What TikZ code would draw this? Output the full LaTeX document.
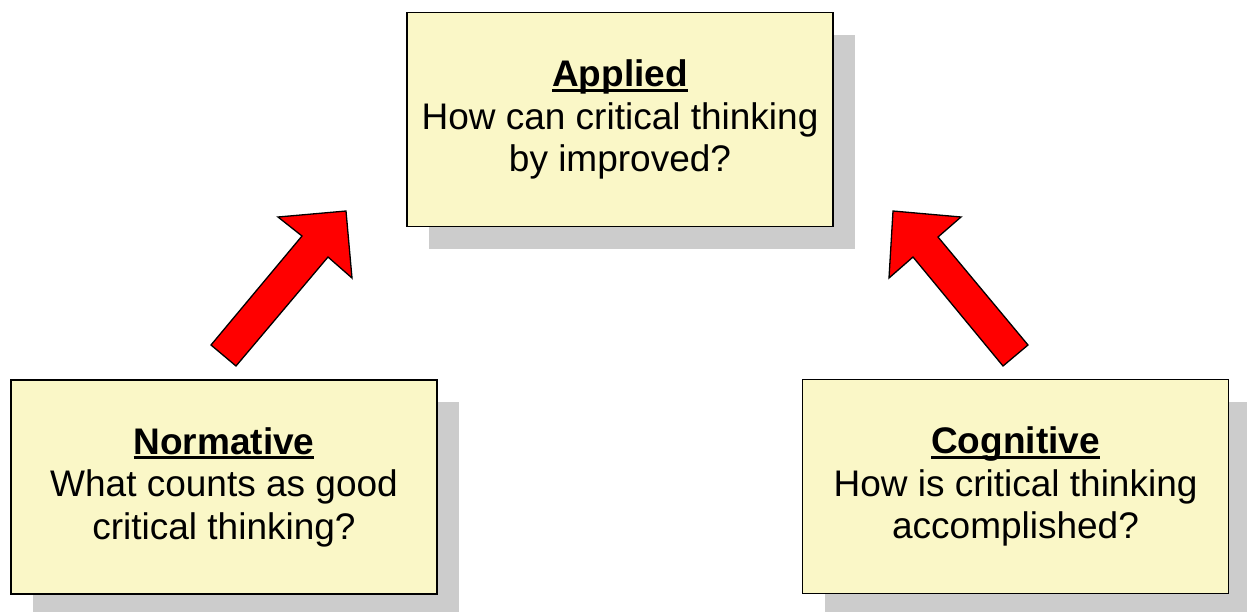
\documentclass[tikz,border=0pt]{standalone}
\usepackage{fontspec}
\setmainfont{Liberation Sans}
\usetikzlibrary{shadows}
\definecolor{boxfill}{RGB}{250,247,199}
\definecolor{shadowgray}{RGB}{204,204,204}
\definecolor{arrowred}{RGB}{255,0,0}
% underlined heading with a solid rule under the word
\newcommand\headline[1]{\setbox0\hbox{\bfseries #1}\rlap{\rule[-5pt]{\wd0}{2.6pt}}\box0}
\tikzset{
  topicbox/.style={draw=black, line width=1.4pt, fill=boxfill,
    minimum width=426pt, minimum height=214pt, inner sep=0pt,
    align=center, font=\fontsize{37}{42.5}\selectfont,
    general shadow={fill=shadowgray, shadow xshift=22pt, shadow yshift=-22pt}},
  blockarrow/.style={draw=black, line width=1.3pt, fill=arrowred, line join=miter}
}
\begin{document}
\begin{tikzpicture}[x=1pt, y=-1pt]
  \useasboundingbox (0,0) rectangle (1247,611);

  \node[topicbox] (applied) at (620,119.5)
    {\headline{Applied}\\How can critical thinking\\by improved?};
  \node[topicbox] (normative) at (224,487)
    {\headline{Normative}\\What counts as good\\critical thinking?};
  \node[topicbox] (cognitive) at (1015.5,486.5)
    {\headline{Cognitive}\\How is critical thinking\\accomplished?};

  % block arrow from Normative up towards Applied
  \draw[blockarrow] (211,345) -- (302,236) -- (278,217) -- (346,211)
    -- (352,278) -- (328,257) -- (236,366) -- cycle;
  % block arrow from Cognitive up towards Applied
  \draw[blockarrow] (1028,345) -- (938,237) -- (961,217) -- (893,211)
    -- (889,278) -- (913,257) -- (1003,366) -- cycle;
\end{tikzpicture}
\end{document}
